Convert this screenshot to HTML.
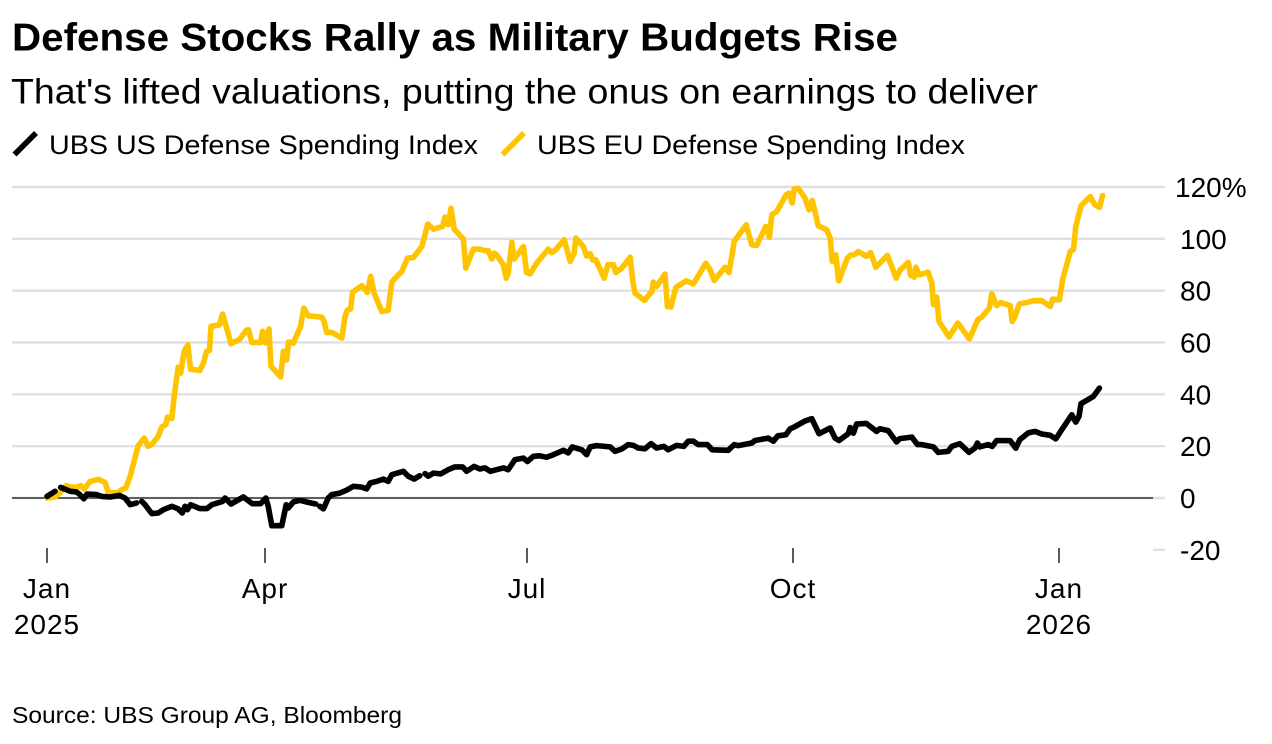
<!DOCTYPE html>
<html lang="en">
<head>
<meta charset="utf-8">
<title>Defense Stocks Rally as Military Budgets Rise</title>
<style>
html,body{margin:0;padding:0;background:#fff;width:1272px;height:744px;overflow:hidden}
svg{display:block}
text{font-family:"Liberation Sans",Arial,sans-serif;fill:#000}
</style>
</head>
<body>
<svg id="chart" width="1272" height="744" viewBox="0 0 1272 744" xmlns="http://www.w3.org/2000/svg">
<rect x="0" y="0" width="1272" height="744" fill="#fff"/>
<text x="12" y="50.7" font-size="39" font-weight="700" textLength="886" lengthAdjust="spacingAndGlyphs">Defense Stocks Rally as Military Budgets Rise</text>
<text x="11" y="103.5" font-size="35.5" textLength="1027" lengthAdjust="spacingAndGlyphs">That's lifted valuations, putting the onus on earnings to deliver</text>
<line x1="14.5" y1="154.5" x2="36" y2="133" stroke="#000" stroke-width="5.6"/>
<text x="49" y="154" font-size="27" textLength="429" lengthAdjust="spacingAndGlyphs">UBS US Defense Spending Index</text>
<line x1="502.5" y1="154.5" x2="524" y2="133" stroke="#ffc400" stroke-width="5.6"/>
<text x="537" y="154" font-size="27" textLength="428" lengthAdjust="spacingAndGlyphs">UBS EU Defense Spending Index</text>
<g id="grid"></g>
<g id="yticks"></g>
<g id="xticks"></g>
<g id="series"></g>
<text x="12" y="723" font-size="23" textLength="390" lengthAdjust="spacingAndGlyphs">Source: UBS Group AG, Bloomberg</text>
</svg>
<script>
const yTickValues = [120, 100, 80, 60, 40, 20, 0, -20];
const yTickLabels = ["120%", "100", "80", "60", "40", "20", "0", "-20"];
const xTickSessions = [0, 54.5, 120, 186.5, 253];
const xTickMonths = ["Jan", "Apr", "Jul", "Oct", "Jan"];
const xTickYears = ["2025", "", "", "", "2026"];

const euSessions = [0,2,3.2,4.8,6,7.4,8.4,9.3,10.8,12.8,14.5,15.3,17.6,18.7,19.7,20.8,22.8,24.3,25.3,26.4,27.8,28.7,29.7,30.1,31.2,31.8,32.8,33.4,34.3,35.2,35.9,38.2,39.1,39.9,40.6,41,43.1,43.9,44.9,46,48.2,49.8,50.4,51.2,53.4,53.9,54.7,55.5,56,58.4,59.1,59.9,60.4,61.6,63.4,64.2,65.3,68.7,69.3,69.9,71.2,73.7,74.5,75.1,75.9,76.4,78.7,80.1,80.9,81.8,83.7,85.3,86.2,87,88.7,90.1,91.6,93.7,95.2,96.6,98.9,99.5,100.3,101,101.8,104.1,104.7,106.6,108.2,109.5,110.3,111.2,111.8,112.4,114.1,114.8,115.3,116.2,116.8,119.1,119.9,120.8,122.4,125.3,126.2,127,129.3,130.8,131.8,132.2,134.1,134.9,135.8,136.4,137.2,139.3,140.2,141.6,142.2,143.7,145.8,146.4,147,149.4,151.2,151.6,152.4,154.5,155.1,156,157.2,159.8,161.6,164.7,165.8,166.8,169.5,170.5,171.8,174.8,176.2,177.4,179.7,180.6,181.2,182.4,184.8,185.5,186.3,186.8,187.8,189.5,190.5,191.3,192,192.8,194.9,195.8,196.3,197.2,197.9,200.1,200.8,202,202.8,204.9,205.9,207.2,210.1,212.3,213.3,215.3,215.9,216.8,217.2,218.1,220.3,221.2,221.6,222.4,223,225.5,227.7,230.6,232.7,233.7,235.6,236.2,237.4,238.4,240.8,241.3,242,243.1,244.9,246.6,248.7,250.8,251.4,253.1,253.9,255.6,255.8,256.6,257.2,258.5,260.8,262,263.1,263.9];
const euValues = [0,0.4,2,4.8,4.2,4.1,4.8,3.5,6.4,7.2,6,2.2,1.9,3.2,3.9,8.4,20.2,23.1,19.9,21,23.8,27.4,28.3,31.2,30.7,39.2,50.5,48.2,56.6,59.1,49.7,49.2,52,56.6,56.9,66.2,66.8,71,65.6,59.5,61.3,64.7,64.9,60,60,64.3,59.8,65.2,50.8,46.7,56.6,53.3,60.2,59.8,66.2,73.3,70.3,69.8,68.1,63.9,63.9,61.7,70,72.6,72.9,79.4,81.9,79.3,85.5,79,71.9,72.4,83.2,84.8,87.4,92.5,92.8,97,105.7,103.7,104.8,108.4,105.4,111.8,103.7,99.9,88.7,96,96,95.4,95.4,92.2,94.5,93.8,90,84.8,86.8,98.7,92.2,97,87,86.5,90.6,96,94.7,95.5,99.6,91.3,94.5,100.3,97,93.4,94.2,91.9,91.9,84.8,90,90,87,88.7,92.9,84.2,79,76.2,79.7,83.3,81.6,86.4,73.9,73.7,81.2,83.8,82.6,90.6,88,83.9,89,87,99,105.4,97.7,97.4,104.8,100.6,109.3,110.5,117,117.6,113.8,119.2,119.5,115.7,111.2,114.8,110.5,105,103.5,100.3,91.3,93.8,83.8,92.5,93.6,94,95.1,93.2,94.7,89,93.6,84.8,88,90.9,85.9,85.2,89.1,86.1,87.1,82.9,74.6,77.5,68.1,62.1,67.5,61.4,68.8,69.8,73.3,78.8,74.2,75.4,74.2,68.1,70,74.9,75.4,76.1,76.1,73.9,76.7,76.5,84.2,93.8,95.1,95.8,104.8,112.7,116.3,113.1,112.1,116.7];

const usSessions = [0,2,2.7,3.4,5.8,7.4,8.2,9.2,10,12.4,13.7,15.8,18.1,19.5,20.8,22.4,23,23.7,24.5,26.2,27.8,29.1,31.2,32.8,33.8,34.5,35.1,35.9,38.2,40,41.2,43.9,44.5,46,49.1,51.3,53.4,54.7,55.3,56.2,58.7,59.8,60.3,61.6,63.2,65.3,67.2,67.7,68.2,69.1,70.3,71.2,73.2,74.9,76.6,78.7,79.9,80.8,82.4,84.1,85.3,86.2,89.1,90.3,91.8,93.2,93.9,94.5,95.3,96.6,98.4,100.3,102,103.9,104.9,106.8,108.2,109.5,110.8,114.1,115.3,117,119.1,120.1,121.6,123.2,124.9,126.6,129.1,130.3,131.3,133.7,134.9,135.8,137.4,140.8,142,143.7,145.3,146.6,147.8,149.5,151,152.4,154.2,155.3,157.4,159.2,160.3,161.6,162.8,165.1,166.3,170.3,171.8,172.8,176.2,177,180.3,181.6,182.7,184.7,185.8,186.8,189.5,191.2,193,195.8,197,198,200.3,200.8,201.6,202.4,204.8,207.4,208.2,210.3,212.4,213.2,216.2,217.6,218.7,221.6,222.8,225.3,226.2,228.2,230.5,232,232.6,233.2,235.3,236.3,237.4,240.8,242.2,243.2,245.3,247,248.7,250.8,252.2,253.7,256.2,257.2,258,258.5,261.6,263.1];
const usValues = [0.6,2.6,null,4.1,2.6,2.3,1.3,-0.3,1.5,1.3,0.6,0.4,1,0,-2.6,-1.9,null,-1.3,-2.6,-6,-5.8,-4.5,-3.2,-4.2,-5.8,-3.2,-4.5,-2.6,-4.1,-4.1,-2.6,-1.3,0,-2.3,0.4,-2.2,-2.2,0,-3.2,-10.7,-10.7,-2.6,-3.9,-1.5,-0.9,-1.7,-2.3,null,-3.2,-4.2,0,1.3,1.9,3,4.5,4.2,3.5,5.8,6.4,7.3,6.4,9,10.3,8.4,7.3,8.6,null,9.4,8.4,9.6,9.3,10.9,12,12,10.3,12.2,11.2,11.6,10.3,11.6,10.9,14.8,15.4,14.1,16.1,16.3,15.7,16.7,18.4,17.4,19.7,18.6,16.7,19.7,20.2,19.7,18,18.9,20.6,20.3,19.3,19,21,19.3,19.9,18.6,20.3,19.9,21.9,21.9,20.6,20.6,18.6,18.4,20.6,20.2,21.2,22.2,23.1,21.9,24,24.4,26.7,27.4,29.7,30.6,24.8,27,23.1,22.2,24.8,27.2,25,28.5,28.8,25.7,26.7,26,21.6,22.9,23.5,20.6,20.6,19.7,17.6,18,19.9,21,17.6,19.3,21.2,19.7,20.6,19.9,22.2,22.1,19.2,22.5,25.1,25.7,24.7,24.2,22.8,26.4,32.1,29.3,31.5,36.4,39.2,42.4];

const NS = "http://www.w3.org/2000/svg";
const xScale = s => 47 + 4 * s;
const yScale = v => 498 - v * 2.592;

function svgEl(tag, attrs, parent) {
  const el = document.createElementNS(NS, tag);
  for (const k in attrs) el.setAttribute(k, attrs[k]);
  parent.appendChild(el);
  return el;
}

const gridG = document.getElementById("grid");
const yG = document.getElementById("yticks");
yTickValues.forEach((v, i) => {
  const y = yScale(v);
  const startX = v === -20 ? 1153 : 12;
  const grid = svgEl("line", {x1: startX, x2: 1165, y1: y, y2: y, stroke: "#e0e0e0", "stroke-width": 2.4}, gridG);
  
  
  if (v === 0) {
    const zero = svgEl("line", {x1: 12, x2: 1153, y1: y, y2: y, stroke: "#333", "stroke-width": 1.6}, gridG);
    
    
  }
  const labelX = yTickLabels[i].indexOf("%") >= 0 ? 1175 : 1180;
  const label = svgEl("text", {x: labelX, y: y + 10, "font-size": 28}, yG);
  
  
  label.textContent = yTickLabels[i];
});

const xG = document.getElementById("xticks");
xTickSessions.forEach((s, i) => {
  const x = xScale(s);
  const tick = svgEl("line", {x1: x, x2: x, y1: 548, y2: 563, stroke: "#333", "stroke-width": 1.6}, xG);
  
  
  const month = svgEl("text", {x: x, y: 598, "font-size": 28, "letter-spacing": 1, "text-anchor": "middle"}, xG);
  
  
  month.textContent = xTickMonths[i];
  if (xTickYears[i]) {
    const year = svgEl("text", {x: x, y: 634, "font-size": 28, "letter-spacing": 1, "text-anchor": "middle"}, xG);
    
    
    year.textContent = xTickYears[i];
  }
});

function linePath(sessions, values) {
  let d = "", pen = false;
  sessions.forEach((s, i) => {
    const v = values[i];
    if (v === null) { pen = false; return; }
    d += (pen ? "L" : "M") + xScale(s).toFixed(1) + " " + yScale(v).toFixed(1);
    pen = true;
  });
  return d;
}

const seriesG = document.getElementById("series");
const euLine = svgEl("path", {d: linePath(euSessions, euValues), fill: "none", stroke: "#ffc400", "stroke-width": 5.6, "stroke-linejoin": "round", "stroke-linecap": "round"}, seriesG);


const usLine = svgEl("path", {d: linePath(usSessions, usValues), fill: "none", stroke: "#000", "stroke-width": 5.6, "stroke-linejoin": "round", "stroke-linecap": "round"}, seriesG);


</script>
</body>
</html>
